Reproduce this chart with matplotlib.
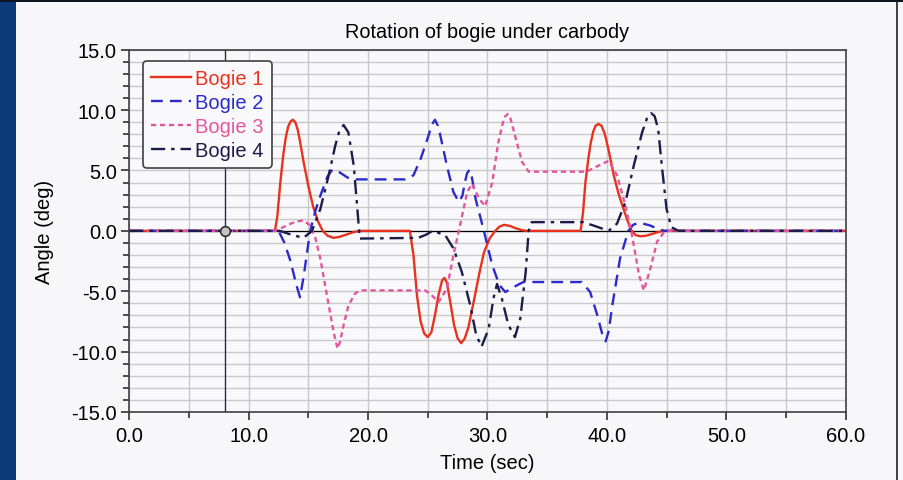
import matplotlib.pyplot as plt
from matplotlib.ticker import MultipleLocator, FormatStrFormatter
from matplotlib.patches import Rectangle
from matplotlib.lines import Line2D

plt.rcParams['font.family'] = ['Liberation Sans', 'DejaVu Sans']
plt.rcParams['axes.unicode_minus'] = False

# Bogie 1
t1 = [0, 12.2, 12.4, 12.65, 12.9, 13.1, 13.3, 13.5, 13.7, 13.9, 14.1, 14.3, 14.6, 15.0,
      15.4, 15.8, 16.2, 16.6, 17.1, 17.6, 18.2, 18.8, 19.3, 23.5, 23.8, 24.1, 24.4, 24.7,
      25.0, 25.3, 25.6, 25.9, 26.2, 26.4, 26.6, 26.9, 27.2, 27.5, 27.8, 28.1, 28.4, 28.9,
      29.3, 29.7, 30.2, 30.65, 31.0, 31.4, 31.9, 32.4, 32.9, 33.3, 37.8, 38.0, 38.2, 38.45,
      38.65, 38.85, 39.05, 39.3, 39.55, 39.8, 40.0, 40.2, 40.6, 41.0, 41.5, 42.0, 42.4, 42.8,
      43.3, 43.8, 44.3, 44.8, 60]
y1 = [0, 0, 1.2, 4.0, 6.3, 7.7, 8.6, 9.05, 9.2, 9.0, 8.4, 7.4, 5.7, 3.7,
      2.0, 0.8, 0.0, -0.4, -0.58, -0.5, -0.3, -0.1, 0, 0, -2.0, -5.4, -7.5, -8.5,
      -8.8, -8.4, -7.0, -5.3, -4.1, -3.9, -4.3, -6.0, -7.8, -8.9, -9.3, -8.9, -8.0, -5.6,
      -3.6, -1.8, -0.6, 0, 0.35, 0.5, 0.4, 0.2, 0.05, 0, 0, 1.5, 4.0, 6.0,
      7.3, 8.2, 8.7, 8.85, 8.7, 8.1, 7.3, 6.4, 4.5, 3.0, 1.5, 0.1, -0.35, -0.45,
      -0.4, -0.25, -0.1, 0, 0]

# Bogie 2
t2 = [0, 12.5, 13.0, 13.5, 14.0, 14.3, 14.6, 15.15, 15.6, 16.0, 16.6, 17.0, 17.6, 18.3,
      18.9, 23.1, 23.8, 24.4, 25.0, 25.35, 25.6, 25.85, 26.05, 26.6, 27.15, 27.6, 27.9, 28.1,
      28.3, 28.5, 28.7, 29.0, 29.7, 30.4, 31.0, 31.5, 32.2, 33.0, 37.9, 38.6, 39.2, 39.6,
      39.9, 40.15, 40.45, 41.1, 41.8, 42.2, 42.7, 43.6, 44.2, 44.8, 60]
y2 = [0, 0, -1.0, -2.5, -4.5, -5.5, -3.8, 0, 1.7, 2.9, 4.5, 5.07, 4.85, 4.4,
      4.26, 4.26, 4.6, 5.95, 7.7, 8.8, 9.2, 8.7, 7.9, 5.4, 3.2, 2.4, 2.9, 4.0,
      4.8, 5.05, 4.4, 2.66, 0, -2.85, -4.5, -5.07, -4.65, -4.24, -4.24, -5.07, -7.0, -8.5,
      -9.15, -8.3, -6.2, -2.3, 0, 0.5, 0.68, 0.45, 0.2, 0, 0]

# Bogie 3
t3 = [0, 12.3, 13.2, 13.9, 14.6, 15.15, 15.6, 16.0, 16.6, 17.0, 17.25, 17.45, 17.65, 17.95,
      18.35, 18.9, 19.3, 24.8, 25.4, 25.9, 26.6, 27.15, 27.7, 28.3, 28.7, 29.3, 29.8, 30.4,
      30.9, 31.3, 31.5, 31.7, 31.9, 32.3, 32.9, 33.45, 38.3, 39.3, 40.15, 40.85, 41.55, 42.1,
      42.7, 43.1, 43.65, 44.2, 44.8, 45.2, 60]
y3 = [0, 0, 0.45, 0.75, 0.87, 0.45, -0.64, -2.3, -5.6, -7.8, -9.0, -9.75, -9.2, -7.8,
      -6.2, -5.2, -4.93, -4.93, -5.4, -5.9, -4.8, -2.0, 0.45, 3.2, 3.9, 2.66, 2.04, 4.0,
      7.3, 9.0, 9.5, 9.67, 9.4, 7.9, 5.7, 4.9, 4.9, 5.4, 5.8, 4.6, 2.1, -0.36,
      -3.7, -4.93, -3.1, -0.9, -0.1, 0, 0]

# Bogie 4
t4 = [0, 12.6, 13.7, 14.6, 15.3, 16.0, 16.7, 17.25, 17.6, 17.95, 18.35, 18.8, 19.1, 19.3,
      24.2, 24.9, 25.4, 26.46, 27.15, 27.85, 28.55, 29.05, 29.5, 30.1, 30.5, 30.8, 31.2, 31.75,
      32.3, 32.75, 33.2, 33.45, 33.7, 38.0, 38.85, 39.6, 40.15, 40.85, 41.55, 42.25, 42.95, 43.35,
      43.7, 44.0, 44.3, 44.6, 45.0, 45.4, 46.0, 60]
y4 = [0, 0, -0.36, -0.58, 0, 1.8, 4.6, 7.05, 8.3, 8.76, 8.15, 5.4, 1.84, -0.64,
      -0.58, -0.3, 0, -0.36, -1.46, -3.4, -6.15, -8.6, -9.6, -8.1, -5.6, -4.4, -5.6, -7.8,
      -8.8, -7.25, -3.4, 0, 0.72, 0.72, 0.45, 0.19, 0, 0.6, 2.37, 5.4, 8.15, 9.3,
      9.75, 9.5, 8.4, 5.4, 1.8, 0.3, 0, 0]

labels = ["Bogie 1", "Bogie 2", "Bogie 3", "Bogie 4"]
colors = ["#e8321e", "#2b2bcc", "#e2559f", "#1c1c4a"]

fig = plt.figure(figsize=(9.04, 4.81), dpi=100)
fig.patch.set_facecolor("#f7f6f9")

# window frame bits of the screenshot
fig.patches.append(Rectangle((0, 0), 16 / 904, 1, transform=fig.transFigure,
                             facecolor="#0b3a78", edgecolor="none", zorder=0))
fig.patches.append(Rectangle((0, 1 - 3 / 481), 1, 3 / 481, transform=fig.transFigure,
                             facecolor="#0d1424", edgecolor="none", zorder=0))
fig.lines.append(Line2D([897 / 904, 897 / 904], [0, 1 - 3 / 481], transform=fig.transFigure,
                        color="#202020", lw=1.2))

ax = fig.add_axes([0.1430, 0.1414, 0.7925, 0.7532])
ax.set_facecolor("#f9f9fb")

ax.plot(t1, y1, color=colors[0], lw=1.7, label=labels[0])
ax.plot(t2, y2, color=colors[1], lw=1.7, dashes=(5, 3), label=labels[1])
ax.plot(t3, y3, color=colors[2], lw=1.7, dashes=(2.2, 1.6), label=labels[2])
ax.plot(t4, y4, color=colors[3], lw=1.7, dashes=(6, 2.5, 1.5, 2.5), label=labels[3])

ax.axhline(0, color="black", lw=0.9, zorder=1.5)
ax.axvline(8, color="#2a2a50", lw=1.0, zorder=1.6)
ax.plot(8, 0, "o", mfc="#c4c4c4", mec="#303030", ms=7, mew=1.2, zorder=5)

ax.set_xlim(0, 60)
ax.set_ylim(-15, 15)
ax.xaxis.set_major_locator(MultipleLocator(10))
ax.xaxis.set_minor_locator(MultipleLocator(5))
ax.yaxis.set_major_locator(MultipleLocator(5))
ax.yaxis.set_minor_locator(MultipleLocator(1))
ax.xaxis.set_major_formatter(FormatStrFormatter("%.1f"))
ax.yaxis.set_major_formatter(FormatStrFormatter("%.1f"))

ax.grid(True, which="both", color="#c9c9c9", lw=1.0)
ax.set_axisbelow(True)

ax.tick_params(which="major", length=6, width=1.2, color="#303030", labelsize=14.5)
ax.tick_params(axis="x", which="major", pad=4)
ax.tick_params(axis="y", which="major", pad=3)
ax.tick_params(which="minor", length=4, width=1.2, color="#303030")
for s in ax.spines.values():
    s.set_color("#404040")
    s.set_linewidth(1.2)

ax.set_title("Rotation of bogie under carbody", fontsize=14.3, pad=9)
ax.set_xlabel("Time (sec)", fontsize=14.5, labelpad=6)
ax.set_ylabel("Angle (deg)", fontsize=14.5, labelpad=12)

leg = ax.legend(loc="upper left", bbox_to_anchor=(0.0187, 0.97), borderaxespad=0,
                fontsize=14.5, handlelength=2.0, handletextpad=0.2, labelspacing=0.25,
                borderpad=0.4, fancybox=True, framealpha=1, facecolor="#f9f9fb",
                edgecolor="#404040")
leg.get_frame().set_linewidth(1.2)
for txt, c in zip(leg.get_texts(), colors):
    txt.set_color(c)

fig.savefig("out.png", dpi=100, facecolor=fig.get_facecolor())
